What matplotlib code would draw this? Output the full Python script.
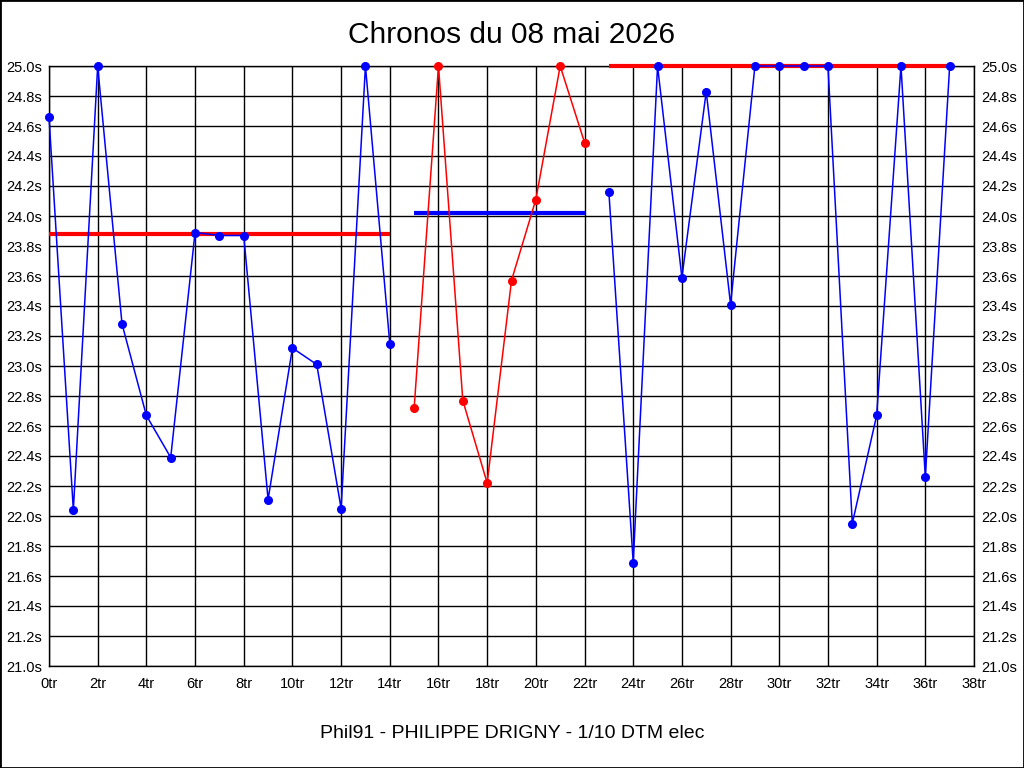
import matplotlib
matplotlib.use("Agg")
import matplotlib.pyplot as plt
import matplotlib.ticker as ticker

plt.rcParams['font.family'] = ['Liberation Sans', 'DejaVu Sans']

# tours et chronos (s) par relais
laps_1 = [0, 1, 2, 3, 4, 5, 6, 7, 8, 9, 10, 11, 12, 13, 14]
times_1 = [24.66, 22.04, 25.0, 23.28, 22.67, 22.39, 23.89, 23.87, 23.87,
           22.11, 23.12, 23.01, 22.05, 25.0, 23.15]
laps_2 = [15, 16, 17, 18, 19, 20, 21, 22]
times_2 = [22.72, 25.0, 22.77, 22.22, 23.57, 24.11, 25.0, 24.49]
laps_3 = [23, 24, 25, 26, 27, 28, 29, 30, 31, 32, 33, 34, 35, 36, 37]
times_3 = [24.16, 21.69, 25.0, 23.59, 24.83, 23.41, 25.0, 25.0, 25.0, 25.0,
           21.95, 22.67, 25.0, 22.26, 25.0]

# moyennes par relais
mean_1 = 23.88
mean_2 = 24.02
mean_3 = 25.0

title = "Chronos du 08 mai 2026"
footer = "Phil91 - PHILIPPE DRIGNY - 1/10 DTM elec"

fig = plt.figure(figsize=(10.24, 7.68), dpi=100)
ax = fig.add_axes([49 / 1024, 1 - 666 / 768, 925 / 1024, 600 / 768])

for laps, times, col in [(laps_1, times_1, 'blue'),
                         (laps_2, times_2, 'red'),
                         (laps_3, times_3, 'blue')]:
    ax.plot(laps, times, color=col, lw=1.1, marker='o', ms=5.5,
            zorder=4, clip_on=False)

for laps, m, col in [(laps_1, mean_1, 'red'),
                     (laps_2, mean_2, 'blue'),
                     (laps_3, mean_3, 'red')]:
    ax.plot([laps[0], laps[-1]], [m, m], color=col, lw=3,
            zorder=3, clip_on=False, solid_capstyle='butt')

ax.set_xlim(0, 38)
ax.set_ylim(21.0, 25.0)
ax.xaxis.set_major_locator(ticker.MultipleLocator(2))
ax.yaxis.set_major_locator(ticker.MultipleLocator(0.2))
ax.xaxis.set_major_formatter(ticker.FuncFormatter(lambda v, p: "%dtr" % round(v)))
ax.yaxis.set_major_formatter(ticker.FuncFormatter(lambda v, p: "%.1fs" % v))
ax.tick_params(axis='both', length=0, labelsize=10.5, pad=5)
ax.tick_params(axis='x', pad=8)
ax.tick_params(axis='y', labelright=True, right=True)
ax.grid(True, color='black', lw=1)
ax.set_axisbelow(True)
for s in ax.spines.values():
    s.set_color('black')
    s.set_linewidth(1)

fig.text(0.5, 1 - 35 / 768, title, ha='center', va='center', fontsize=21.5)
fig.text(0.5, 1 - 734 / 768, footer, ha='center', va='center', fontsize=14)

# cadre autour de l'image
fig.patches.append(plt.Rectangle((0, 0), 1, 1, transform=fig.transFigure,
                                 fill=False, edgecolor='black', lw=2))

fig.savefig("out.png", dpi=100)
